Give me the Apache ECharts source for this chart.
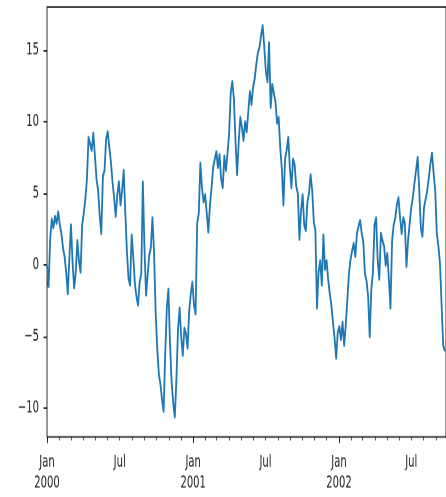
<!DOCTYPE html>
<html>
<head>
<meta charset="utf-8">
<script src="https://cdn.jsdelivr.net/npm/echarts@6/dist/echarts.min.js"></script>
<style>
  html, body { margin: 0; padding: 0; background: #fff; }
  /* The figure is laid out at its native size, then stretched vertically. */
  #wrap { width: 446px; height: 497px; overflow: hidden; position: relative; }
  #chart { position: absolute; left: 0; top: 0; width: 446px; height: 288px; transform: scale(1, 1.7257); transform-origin: 0 0; }
</style>
</head>
<body>
<div id="wrap"><div id="chart"></div></div>
<script>
// Daily random walk, sampled every 4 days from 2000-01-01
const startDate = '2000-01-01';
const stepDays = 4;
const lastDay = 999;
const values = [
  0.0, -1.5, 1.8, 3.2, 2.6, 3.4, 2.9, 3.7, 2.8, 2.2,
  1.2, 0.6, -0.5, -2.0, 0.5, 2.8, 0.2, -1.6, -0.5, 1.7,
  0.3, -0.5, 2.8, 3.6, 4.6, 6.0, 8.9, 9.0, 8.0, 9.2,
  7.6, 6.0, 5.2, 3.4, 2.2, 6.2, 6.6, 8.8, 9.3, 8.2,
  7.2, 5.8, 4.7, 3.4, 4.9, 5.8, 4.2, 5.2, 6.6, 3.7,
  1.0, -0.9, -1.4, 2.1, 0.6, -1.3, -2.2, -2.8, -1.2, -0.6,
  5.8, 1.2, -2.1, -0.7, 0.7, 1.2, 3.3, 0.9, -3.3, -5.8,
  -7.6, -8.3, -9.4, -10.2, -6.2, -3.0, -1.7, -5.5, -8.2, -9.6,
  -10.6, -8.0, -4.5, -3.0, -5.0, -6.3, -4.4, -4.8, -5.8, -3.2,
  -2.0, -1.2, -2.8, -3.4, 2.9, 3.6, 7.1, 5.4, 4.4, 4.9,
  3.6, 2.3, 4.2, 5.4, 6.8, 7.4, 7.9, 6.8, 7.7, 6.0,
  5.4, 7.6, 6.6, 7.8, 9.2, 12.0, 12.8, 11.6, 8.6, 6.3,
  8.6, 10.3, 9.6, 8.7, 10.0, 9.3, 10.7, 12.1, 11.2, 12.4,
  13.0, 14.0, 14.8, 15.2, 16.0, 16.7, 15.2, 13.5, 12.8, 15.5,
  11.0, 12.6, 12.0, 11.4, 9.9, 10.3, 8.2, 6.7, 4.2, 7.4,
  8.0, 8.9, 6.8, 5.4, 7.4, 7.0, 5.5, 5.0, 1.8, 3.8,
  4.9, 2.8, 2.4, 4.4, 5.0, 6.3, 5.2, 3.0, 2.4, -3.0,
  -0.5, 0.3, -1.4, 2.1, -0.3, 0.3, -1.0, -2.0, -2.8, -4.0,
  -5.1, -6.5, -4.7, -4.3, -5.2, -4.0, -5.6, -4.2, -2.4, -0.6,
  0.4, 1.0, 1.5, 0.6, 2.2, 2.7, 3.1, 2.2, 1.6, -0.6,
  -1.1, -2.2, -5.0, -1.7, -0.5, 2.8, 3.3, 0.3, -1.0, 2.2,
  1.7, 1.3, 0.0, 0.8, -1.0, -3.0, 1.7, 2.8, 3.3, 4.2,
  4.7, 3.3, 2.2, 3.3, 2.9, -0.1, 1.7, 2.9, 4.0, 4.7,
  5.7, 6.6, 7.5, 5.2, 2.6, 2.0, 4.0, 4.6, 5.2, 6.1,
  7.1, 7.8, 6.4, 5.2, 2.2, 1.3, 0.1, -2.8, -5.6, -6.0
];
const yTicks = [-10, -5, 0, 5, 10, 15];
const yRange = [-12, 18];
const monthNames = ['Jan', 'Feb', 'Mar', 'Apr', 'May', 'Jun', 'Jul', 'Aug', 'Sep', 'Oct', 'Nov', 'Dec'];
const labelMonths = [0, 6];   // Jan and Jul carry labels

// Day offsets of every month start within the plotted span
const DAY = 86400000;
const t0 = Date.parse(startDate + 'T00:00:00Z');
const monthStarts = [];
const labelInfo = {};
for (let y = 2000; y <= 2002; y++) {
  for (let m = 0; m < 12; m++) {
    const d = Math.round((Date.UTC(y, m, 1) - t0) / DAY);
    if (d > lastDay) break;
    monthStarts.push(d);
    if (labelMonths.indexOf(m) >= 0) {
      labelInfo[d] = m === 0 ? monthNames[m] + '\n' + y : monthNames[m];
    }
  }
}
const labelDays = Object.keys(labelInfo).map(Number);
const yearStarts = labelDays.filter(d => labelInfo[d].indexOf('\n') >= 0);

const seriesData = values.map((v, i) => [i * stepDays, v]);

const textColor = '#222';
const font = 'DejaVu Sans';
const spineColor = '#1a1a1a';

const chart = echarts.init(document.getElementById('chart'), null, { renderer: 'canvas', devicePixelRatio: 2 });
chart.setOption({
  animation: false,
  backgroundColor: '#fff',
  grid: {
    left: 47, right: -3, top: 4.06, bottom: 34.78,
    show: true, borderColor: spineColor, borderWidth: 0.9, backgroundColor: 'transparent'
  },
  xAxis: [{
    type: 'value', min: 0, max: lastDay, position: 'bottom',
    splitLine: { show: false },
    axisLine: { show: false, onZero: false },
    axisTick: { show: true, customValues: yearStarts, length: 3.5, lineStyle: { color: spineColor, width: 0.9 } },
    axisLabel: {
      show: true, customValues: labelDays, margin: 8.5, hideOverlap: false,
      fontFamily: font, fontSize: 10, color: textColor, lineHeight: 12, align: 'center',
      formatter: v => labelInfo[Math.round(v)] || ''
    }
  }, {
    type: 'value', min: 0, max: lastDay, position: 'bottom',
    splitLine: { show: false },
    axisLine: { show: false, onZero: false },
    axisLabel: { show: false },
    axisTick: { show: true, customValues: monthStarts, length: 2, lineStyle: { color: spineColor, width: 0.7 } }
  }],
  yAxis: {
    type: 'value', min: yRange[0], max: yRange[1],
    splitLine: { show: false },
    axisLine: { show: false, onZero: false },
    axisTick: { show: true, customValues: yTicks, length: 3.5, lineStyle: { color: spineColor, width: 0.9 } },
    axisLabel: {
      show: true, customValues: yTicks, margin: 8,
      fontFamily: font, fontSize: 10, color: textColor,
      formatter: v => (v < 0 ? '\u2212' + Math.abs(v) : String(v))
    }
  },
  series: [{
    type: 'line',
    xAxisIndex: 0,
    data: seriesData,
    showSymbol: false,
    symbol: 'none',
    lineStyle: { color: '#1f77b4', width: 1.8, join: 'round' }
  }]
});
</script>
</body>
</html>
